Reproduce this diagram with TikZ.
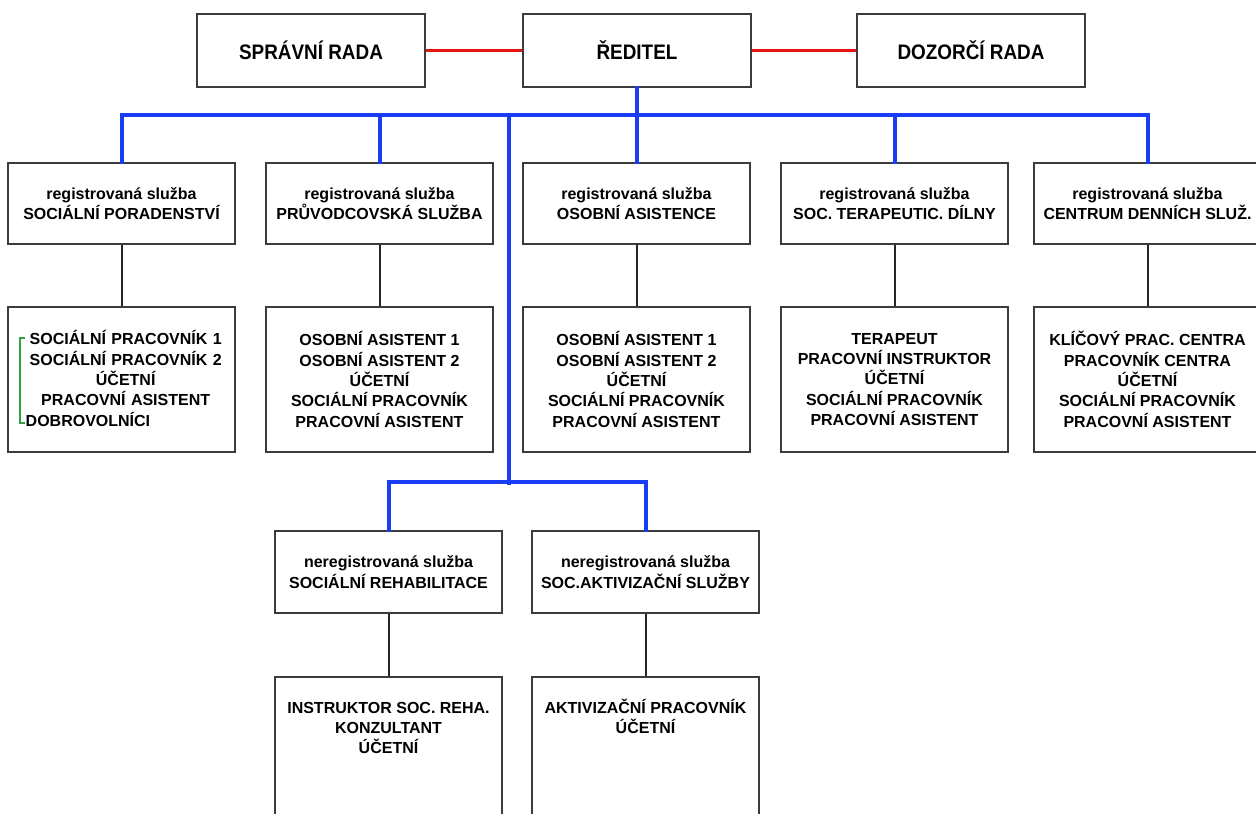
\documentclass[tikz,border=0pt]{standalone}
\usepackage{fontspec}
\setmainfont{Liberation Sans}
\newfontfamily\topfont[FakeStretch=0.9]{Liberation Sans}
\usetikzlibrary{calc}
\definecolor{orgblue}{RGB}{25,60,245}
\definecolor{orgred}{RGB}{232,20,20}
\definecolor{boxgray}{RGB}{60,60,60}
\definecolor{brgreen}{RGB}{50,160,70}
\begin{document}
\begin{tikzpicture}[x=1pt,y=-1pt,
  box/.style={draw=boxgray, line width=1.5pt, fill=white, rectangle, inner sep=0pt,
    align=center, font=\bfseries\fontsize{16}{20.3}\selectfont},
  topbox/.style={box, minimum width=228pt, minimum height=73pt,
    font=\topfont\bfseries\fontsize{21}{24}\selectfont},
  svcbox/.style={box, minimum width=227pt, minimum height=81pt},
  staffbox/.style={box, minimum width=227pt, minimum height=145pt},
  nsvcbox/.style={box, minimum width=227pt, minimum height=82pt},
  nstaffbox/.style={box, minimum width=227pt, minimum height=160pt, anchor=north},
  txt/.style={inner sep=0pt, align=center, font=\bfseries\fontsize{16}{20.3}\selectfont},
  redline/.style={draw=orgred, line width=3pt},
  blueline/.style={draw=orgblue, line width=4pt, line join=miter, line cap=rect},
  blackline/.style={draw=black!85, line width=2pt},
  bracket/.style={draw=brgreen, line width=1.3pt}
]
\useasboundingbox (0,0) rectangle (1256,814);
\clip (0,0) rectangle (1256,814);

% top row
\node[topbox] (spr) at (311,50.5) {SPRÁVNÍ RADA};
\node[topbox] (dir) at (637,50.5) {ŘEDITEL};
\node[topbox] (doz) at (971,50.5) {DOZORČÍ RADA};
\draw[redline] (spr.east) -- (dir.west);
\draw[redline] (dir.east) -- (doz.west);

% registered services
\node[svcbox] (r1a) at (121.5,203.5) {registrovaná služba\\SOCIÁLNÍ PORADENSTVÍ};
\node[svcbox] (r1b) at (379.5,203.5) {registrovaná služba\\PRŮVODCOVSKÁ SLUŽBA};
\node[svcbox] (r1c) at (636.5,203.5) {registrovaná služba\\OSOBNÍ ASISTENCE};
\node[svcbox] (r1d) at (894.5,203.5) {registrovaná služba\\SOC. TERAPEUTIC. DÍLNY};
\node[svcbox] (r1e) at (1147.5,203.5) {registrovaná služba\\CENTRUM DENNÍCH SLUŽ.};

% staff boxes
\node[staffbox] (r2a) at (121.5,379.5) {};
\node[txt, text width=200pt] (t2a) at (125.7,378.5)
  {SOCIÁLNÍ PRACOVNÍK 1\\SOCIÁLNÍ PRACOVNÍK 2\\ÚČETNÍ\\PRACOVNÍ ASISTENT\\\makebox[200pt][l]{DOBROVOLNÍCI}};
\node[staffbox] (r2b) at (379.5,379.5) {OSOBNÍ ASISTENT 1\\OSOBNÍ ASISTENT 2\\ÚČETNÍ\\SOCIÁLNÍ PRACOVNÍK\\PRACOVNÍ ASISTENT};
\node[staffbox] (r2c) at (636.5,379.5) {OSOBNÍ ASISTENT 1\\OSOBNÍ ASISTENT 2\\ÚČETNÍ\\SOCIÁLNÍ PRACOVNÍK\\PRACOVNÍ ASISTENT};
\node[staffbox] (r2d) at (894.5,379.5) {TERAPEUT\\PRACOVNÍ INSTRUKTOR\\ÚČETNÍ\\SOCIÁLNÍ PRACOVNÍK\\PRACOVNÍ ASISTENT};
\node[staffbox] (r2e) at (1147.5,379.5) {KLÍČOVÝ PRAC. CENTRA\\PRACOVNÍK CENTRA\\ÚČETNÍ\\SOCIÁLNÍ PRACOVNÍK\\PRACOVNÍ ASISTENT};

% green bracket
\draw[bracket] (25,338) -- (20,338) -- (20,423) -- (25,423);

% unregistered services
\node[nsvcbox] (r3a) at (388.5,572) {neregistrovaná služba\\SOCIÁLNÍ REHABILITACE};
\node[nsvcbox] (r3b) at (645.5,572) {neregistrovaná služba\\SOC.AKTIVIZAČNÍ SLUŽBY};
\node[nstaffbox] (r4a) at (388.5,676) {};
\node[nstaffbox] (r4b) at (645.5,676) {};
\node[txt, anchor=north] (t4a) at (388.5,697) {\rule{0pt}{16pt}INSTRUKTOR SOC. REHA.\\KONZULTANT\\ÚČETNÍ};
\node[txt, anchor=north] (t4b) at (645.5,697) {\rule{0pt}{16pt}AKTIVIZAČNÍ PRACOVNÍK\\ÚČETNÍ};

% blue tree
\draw[blueline] (dir.south) -- ++(0,29);
\draw[blueline] (r1a.north) -- ++(0,-47) -| (r1e.north);
\draw[blueline] (r1b.north) -- ++(0,-47);
\draw[blueline] (r1c.north) -- ++(0,-47);
\draw[blueline] (r1d.north) -- ++(0,-47);
\coordinate (tap) at (509,116);
\coordinate (split) at (509,483);
\draw[blueline] (tap) -- (split);
\draw[blueline] (r3a.north) -- ++(0,-48) -| (r3b.north);

% black connectors
\draw[blackline] (r1a.south) -- (r2a.north);
\draw[blackline] (r1b.south) -- (r2b.north);
\draw[blackline] (r1c.south) -- (r2c.north);
\draw[blackline] (r1d.south) -- (r2d.north);
\draw[blackline] (r1e.south) -- (r2e.north);
\draw[blackline] (r3a.south) -- (r4a.north);
\draw[blackline] (r3b.south) -- (r4b.north);
\end{tikzpicture}
\end{document}
